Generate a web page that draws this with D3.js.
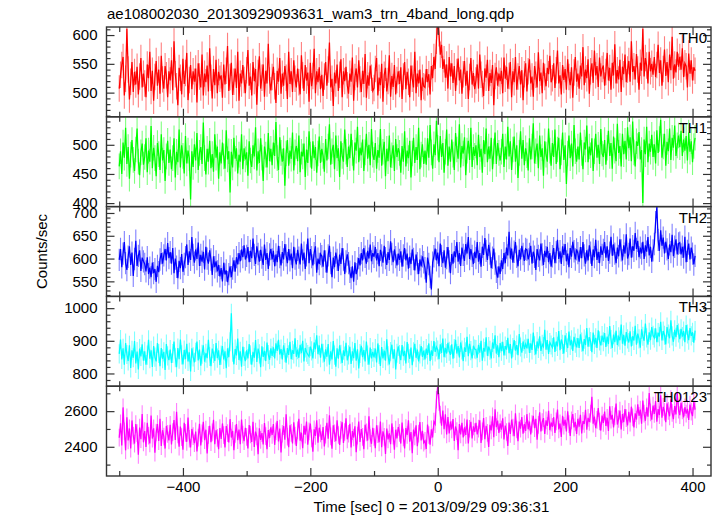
<!DOCTYPE html>
<html><head><meta charset="utf-8">
<script src="https://cdn.jsdelivr.net/npm/d3@7"></script>
<style>
body{margin:0;background:#fff;}
text{font-family:"Liberation Sans",Arial,Helvetica,sans-serif;}
</style></head>
<body>
<svg id="chart" width="718" height="516"></svg>
<script>
// ---- DATA ----
const title = "ae108002030_20130929093631_wam3_trn_4band_long.qdp";
const xLabel = "Time [sec] 0 = 2013/09/29 09:36:31";
const yLabel = "Counts/sec";
const binStart = -500, binSize = 2;
const bandNames = ["TH0", "TH1", "TH2", "TH3", "TH0123"];
const bandColors = ["#ff0000", "#00ff00", "#0000ff", "#00ffff", "#ff00ff"];
const bandErrors = [23, 22, 24.5, 29.3, 49.6];
const yDomains = [[458, 614], [394, 548], [517, 714], [761, 1036], [2236, 2740]];
const yMajor = [[500, 550, 600], [400, 450, 500], [550, 600, 650, 700], [800, 900, 1000], [2400, 2600]];
const yMinorStep = [10, 10, 10, 20, 100];
const xMajor = [-400, -200, 0, 200, 400];
const xMinor = [-500, -300, -100, 100, 300];

const th0 = [
507,531,548,562,495,524,611,540,488,519,553,501,536,514,545,497,528,560,509,533,
516,492,549,525,571,503,538,486,527,555,512,540,498,564,523,507,546,530,492,537,
521,556,504,589,532,511,478,543,526,497,559,515,534,569,487,522,548,506,537,519,
542,483,551,528,509,566,495,533,518,547,502,577,526,490,541,513,557,499,536,524,
530,491,549,514,538,581,503,527,552,496,519,542,508,571,486,533,516,548,522,499,
539,574,512,528,495,553,520,541,479,534,563,507,526,549,493,538,516,585,521,504,
527,545,511,482,538,519,560,498,533,512,546,526,489,571,515,537,501,556,524,509,
542,518,497,565,530,503,548,521,535,484,552,511,529,576,499,537,518,544,506,531,
494,528,553,512,540,587,509,524,477,535,516,549,503,531,558,492,537,520,545,513,
498,533,519,561,486,527,542,509,556,523,501,538,515,567,491,530,512,547,526,503,
508,541,560,495,526,513,550,484,531,543,502,520,565,493,529,510,548,497,522,537,
515,544,489,528,553,506,536,519,492,547,524,509,571,499,533,516,540,487,526,511,
509,541,518,532,497,546,525,562,541,590,625,603,566,583,541,558,526,549,507,562,
528,551,517,546,503,536,559,521,540,498,532,555,512,538,489,527,560,514,534,506,
521,549,507,566,531,515,494,542,526,557,503,534,517,548,478,529,544,512,533,520,
538,499,561,524,545,507,529,553,492,537,518,562,505,528,546,514,539,487,532,551,
502,537,558,516,528,493,546,531,509,570,520,535,499,552,527,511,543,532,564,518,
525,551,508,539,573,516,530,497,548,522,541,505,558,527,513,544,491,535,562,519,
533,507,547,528,579,513,540,525,558,498,537,551,517,573,530,546,510,561,528,541,
547,512,536,569,521,543,505,552,530,584,516,539,523,557,501,545,532,566,518,540,
555,519,589,536,546,523,567,540,505,552,538,611,528,560,547,516,571,537,550,531,
562,527,548,583,534,556,512,541,575,529,553,518,566,539,597,524,549,535,571,545,
562,540,577,527,551,546,509,568,533,556,521,544,538];

const th1 = [
463,489,450,504,478,529,467,496,442,483,508,474,455,492,528,471,448,487,502,466,
479,511,453,490,471,532,460,495,477,446,503,484,457,518,473,491,438,480,507,469,
492,458,477,511,444,488,470,526,461,499,481,451,515,468,490,477,406,489,462,501,
473,520,457,486,496,467,538,477,449,493,471,507,460,484,454,518,478,497,442,487,
468,504,480,459,525,475,489,418,488,461,512,476,494,451,483,471,518,458,494,475,
487,447,506,473,462,499,480,530,456,489,469,511,478,438,497,483,461,520,472,493,
465,504,481,539,477,457,513,486,471,494,430,485,508,464,490,476,521,456,487,498,
472,516,453,488,480,502,445,492,469,523,483,459,506,477,496,452,485,514,469,493,
481,454,510,473,497,535,466,489,500,458,516,477,494,445,506,481,471,526,488,462,
497,477,519,486,456,504,490,531,470,495,482,509,455,487,519,476,500,465,527,483,
474,503,459,491,478,527,464,488,505,446,493,472,516,461,482,499,455,510,479,494,
486,452,498,471,523,463,490,477,507,444,485,512,469,496,474,529,458,483,501,467,
490,466,511,478,534,487,459,501,482,541,495,470,515,479,503,452,488,526,464,497,
471,509,483,457,520,492,476,535,461,498,485,513,448,490,507,474,529,462,496,481,
499,465,517,479,493,452,508,484,528,470,497,476,512,458,489,521,467,503,486,473,
488,519,462,497,475,531,480,506,457,492,514,471,499,443,486,523,476,508,465,494,
482,456,511,475,497,537,468,489,502,460,516,479,494,447,506,483,471,528,490,464,
503,479,526,467,492,512,458,487,521,474,499,433,485,516,477,502,463,534,489,471,
497,475,521,486,458,504,492,533,470,497,482,511,455,489,519,478,500,467,527,485,
479,508,466,495,524,481,503,459,514,490,472,536,486,498,463,519,484,507,475,530,
494,513,472,540,487,463,506,498,522,475,491,400,509,484,531,470,502,488,517,479,
501,468,525,486,510,543,478,497,519,464,505,489,528,474,512,495,533,481,499,516,
496,524,481,509,490,515,473,521,488,506,470,498,512];

const th2 = [
597,621,581,611,636,590,575,604,627,586,613,562,599,639,584,606,618,573,602,594,
588,572,603,566,580,559,591,568,577,549,584,570,598,612,589,607,621,596,634,601,
614,589,623,568,600,582,557,595,579,610,571,588,603,631,586,616,597,647,608,591,
620,599,635,584,608,593,615,576,626,600,589,618,598,564,605,581,594,572,586,561,
579,550,591,565,574,548,566,583,559,578,596,571,603,587,612,594,620,603,629,598,
606,625,592,617,601,644,608,588,627,610,593,619,602,586,631,597,612,577,609,621,
598,617,583,609,592,628,603,585,614,598,632,607,590,621,596,611,579,626,600,587,
619,602,587,633,596,613,577,607,644,590,621,603,585,612,627,569,600,588,610,605,
582,618,594,569,607,628,590,559,602,581,613,597,573,609,588,623,598,566,594,609,
590,571,557,583,549,592,566,578,601,585,612,596,623,604,589,617,600,631,594,612,
604,625,596,612,583,619,607,591,628,601,586,614,597,638,610,592,620,603,585,611,
597,616,582,607,623,596,611,578,604,588,620,599,574,609,590,566,598,583,605,592,
579,547,602,588,560,532,591,605,622,596,613,583,633,606,590,618,580,601,625,594,
568,610,589,616,603,636,593,612,584,624,608,595,632,611,647,599,621,606,588,615,
601,636,593,612,582,626,608,645,617,597,630,611,579,602,622,589,571,558,583,566,
596,577,612,590,624,607,659,600,622,591,615,636,604,583,619,598,628,610,595,621,
619,598,610,628,589,615,604,575,621,606,596,633,609,586,617,603,626,592,612,582,
605,623,590,614,641,599,616,588,627,608,632,594,611,581,623,604,637,616,598,620,
612,593,625,601,636,607,589,618,596,629,613,584,620,603,641,597,615,590,627,608,
619,636,602,627,595,613,648,606,631,611,590,624,605,642,618,596,629,611,653,600,
610,644,602,627,617,656,621,639,603,624,611,637,599,629,615,647,607,626,593,618,
632,680,713,641,617,662,628,646,611,637,620,599,631,614,652,605,626,642,609,633,
635,609,626,602,648,592,617,633,598,624,611,587,606];

const th3 = [
860,904,843,877,827,893,858,838,886,817,871,848,899,831,867,812,876,852,889,839,
868,827,856,903,845,871,820,884,850,837,893,861,822,878,845,866,811,890,854,841,
873,832,861,898,848,819,878,844,904,857,828,872,844,891,837,865,806,877,851,834,
865,898,840,873,824,859,886,836,862,847,903,852,822,876,861,838,893,847,871,826,
856,884,843,868,816,877,850,897,984,865,828,875,855,907,841,868,821,882,852,838,
871,846,890,857,827,866,848,902,835,876,860,819,883,851,869,838,895,858,842,877,
854,880,846,892,869,903,858,875,843,886,864,833,878,857,897,844,871,860,908,851,
873,848,888,862,900,837,878,865,858,852,882,869,846,895,874,917,859,886,848,891,
862,836,874,851,890,827,868,843,899,856,821,877,845,886,859,832,871,853,894,840,
857,882,829,868,847,893,839,874,815,861,885,850,872,837,898,856,827,879,846,866,
849,876,834,892,858,823,881,846,870,839,905,854,828,867,888,845,874,812,862,883,
858,841,887,853,869,831,896,862,845,879,825,866,891,848,873,837,860,884,851,870,
843,876,857,892,838,871,854,899,866,881,872,844,889,863,907,850,878,861,894,868,
857,889,845,876,903,861,884,849,895,872,838,880,866,912,853,891,870,846,885,875,
873,848,888,864,900,839,878,867,911,854,882,871,846,895,876,917,861,886,850,893,
868,897,855,884,873,909,862,890,846,879,902,870,887,856,921,881,864,898,875,890,
877,906,863,892,872,925,885,858,898,877,914,869,889,882,934,873,902,860,895,887,
879,911,866,898,883,930,871,904,889,861,917,895,878,928,886,903,869,912,893,880,
908,878,920,896,868,905,887,939,882,911,898,865,925,889,909,878,932,900,886,916,
897,924,881,913,890,945,904,878,919,896,931,887,912,902,950,891,918,885,927,906,
895,929,883,914,901,946,888,922,906,879,935,914,900,953,909,888,926,902,942,917,
909,938,896,925,913,958,901,930,917,889,942,921,908,963,915,897,934,911,948,924,
905,937,913,930,896,948,921,902,939,915,926,894,931];

const th0123 = [
2451,2532,2407,2621,2487,2380,2565,2436,2503,2390,2548,2462,2418,2527,2477,2355,2508,2443,2584,2425,
2488,2399,2534,2462,2419,2575,2446,2504,2367,2480,2528,2432,2557,2404,2493,2457,2390,2517,2472,2436,
2523,2413,2482,2550,2438,2596,2469,2400,2513,2454,2384,2535,2478,2428,2564,2445,2396,2500,2460,2420,
2486,2374,2451,2529,2408,2475,2540,2437,2496,2363,2467,2518,2426,2481,2552,2414,2493,2450,2386,2505,
2444,2531,2465,2396,2516,2477,2424,2555,2452,2489,2381,2472,2528,2437,2496,2415,2553,2468,2432,2507,
2456,2391,2522,2469,2427,2540,2399,2485,2458,2358,2504,2439,2477,2413,2533,2460,2386,2494,2449,2509,
2466,2528,2411,2487,2545,2430,2502,2368,2473,2516,2440,2583,2457,2398,2521,2478,2419,2537,2463,2405,
2492,2557,2434,2479,2392,2518,2468,2541,2412,2486,2530,2447,2372,2498,2461,2549,2423,2507,2475,2438,
2511,2402,2468,2534,2445,2577,2458,2389,2520,2476,2431,2549,2466,2410,2495,2538,2421,2483,2560,2442,
2473,2529,2396,2488,2452,2515,2370,2463,2541,2427,2499,2456,2386,2524,2481,2435,2571,2449,2417,2506,
2455,2392,2520,2471,2425,2542,2397,2487,2456,2360,2502,2441,2475,2415,2531,2462,2384,2496,2447,2511,
2478,2418,2536,2452,2391,2505,2466,2548,2429,2483,2364,2497,2458,2520,2403,2474,2539,2436,2490,2423,
2433,2388,2525,2466,2412,2498,2453,2541,2527,2664,2745,2652,2581,2519,2604,2498,2582,2469,2567,2475,
2542,2497,2556,2433,2514,2488,2381,2527,2470,2535,2452,2509,2466,2553,2419,2501,2540,2447,2515,2483,
2535,2469,2502,2548,2422,2486,2561,2443,2517,2478,2399,2524,2492,2571,2454,2611,2510,2547,2477,2532,
2496,2560,2441,2519,2483,2405,2536,2472,2553,2508,2459,2588,2497,2431,2541,2502,2567,2474,2528,2489,
2583,2498,2541,2469,2528,2574,2504,2557,2440,2523,2594,2486,2539,2561,2472,2548,2517,2602,2493,2536,
2512,2566,2478,2543,2609,2497,2531,2455,2574,2518,2552,2486,2599,2527,2461,2548,2583,2509,2540,2472,
2557,2513,2580,2475,2545,2528,2608,2496,2562,2539,2586,2680,2530,2570,2504,2551,2617,2542,2491,2575,
2534,2598,2517,2563,2489,2627,2552,2579,2508,2571,2643,2525,2556,2603,2497,2584,2538,2612,2561,2520,
2596,2536,2625,2565,2509,2588,2553,2638,2574,2609,2529,2660,2586,2546,2621,2569,2702,2593,2552,2631,
2585,2657,2541,2612,2578,2689,2563,2624,2597,2538,2644,2602,2571,2667,2590,2555,2629,2581,2706,2608,
2578,2647,2604,2565,2622,2586,2613,2550,2637,2597,2572,2654,2609];

const series = [th0, th1, th2, th3, th0123];

// ---- LAYOUT ----
const svg = d3.select("#chart");
const plotLeft = 106.5, plotRight = 711, plotTop = 27, plotBottom = 476;
const panelH = (plotBottom - plotTop) / series.length;
const x = d3.scaleLinear().domain([-520, 429]).range([plotLeft, plotRight]);
const frameColor = "#333";

svg.append("text").attr("x", 107).attr("y", 19).attr("font-size", 15).text(title);

series.forEach((vals, k) => {
  const pTop = plotTop + k * panelH, pBot = pTop + panelH;
  const y = d3.scaleLinear().domain(yDomains[k]).range([pBot, pTop]);
  const g = svg.append("g");
  const clipId = "clip" + k;
  svg.append("clipPath").attr("id", clipId).append("rect")
    .attr("x", plotLeft).attr("y", pTop).attr("width", plotRight - plotLeft).attr("height", panelH);

  const data = vals.map((v, i) => ({t: binStart + i * binSize, v}));
  const err = bandErrors[k];
  const dg = g.append("g").attr("clip-path", `url(#${clipId})`);
  dg.selectAll("line.err").data(data).join("line")
    .attr("class", "err")
    .attr("x1", d => x(d.t)).attr("x2", d => x(d.t))
    .attr("y1", d => y(d.v - err)).attr("y2", d => y(d.v + err))
    .attr("stroke", bandColors[k]).attr("stroke-opacity", 0.5).attr("stroke-width", 1.1);
  dg.append("path").datum(data)
    .attr("d", d3.line().x(d => x(d.t)).y(d => y(d.v)))
    .attr("fill", "none").attr("stroke", bandColors[k]).attr("stroke-width", 1.25);

  const minorVals = d3.range(Math.ceil(yDomains[k][0] / yMinorStep[k]) * yMinorStep[k], yDomains[k][1], yMinorStep[k])
    .filter(v => !yMajor[k].includes(v));
  g.append("g").attr("transform", `translate(${plotLeft},0)`)
    .call(d3.axisLeft(y).tickValues(yMajor[k]).tickSizeInner(-8).tickSizeOuter(0).tickPadding(9).tickFormat(d3.format("d")));
  g.append("g").attr("transform", `translate(${plotLeft},0)`)
    .call(d3.axisLeft(y).tickValues(minorVals).tickSizeInner(-4).tickSizeOuter(0).tickFormat(""));
  g.append("g").attr("transform", `translate(${plotRight},0)`)
    .call(d3.axisRight(y).tickValues(yMajor[k]).tickSizeInner(-8).tickSizeOuter(0).tickFormat(""));
  g.append("g").attr("transform", `translate(${plotRight},0)`)
    .call(d3.axisRight(y).tickValues(minorVals).tickSizeInner(-4).tickSizeOuter(0).tickFormat(""));
  const isLast = k === series.length - 1;
  g.append("g").attr("transform", `translate(0,${pBot})`)
    .call(d3.axisBottom(x).tickValues(xMajor).tickSizeInner(-8).tickSizeOuter(0).tickPadding(5)
      .tickFormat(isLast ? (d => d < 0 ? "\u2212" + Math.abs(d) : String(d)) : ""));
  g.append("g").attr("transform", `translate(0,${pBot})`)
    .call(d3.axisBottom(x).tickValues(xMinor).tickSizeInner(-5).tickSizeOuter(0).tickFormat(""));
  g.append("g").attr("transform", `translate(0,${pTop})`)
    .call(d3.axisTop(x).tickValues(xMajor).tickSizeInner(-8).tickSizeOuter(0).tickFormat(""));
  g.append("g").attr("transform", `translate(0,${pTop})`)
    .call(d3.axisTop(x).tickValues(xMinor).tickSizeInner(-5).tickSizeOuter(0).tickFormat(""));

  g.selectAll(".domain").remove();
  g.selectAll(".tick line").attr("stroke", frameColor).attr("stroke-width", 1.2);
  g.selectAll(".tick text").attr("font-size", 15).attr("fill", "#000")
    .attr("font-family", '"Liberation Sans",Arial,Helvetica,sans-serif');

  g.append("rect").attr("x", plotLeft).attr("y", pTop).attr("width", plotRight - plotLeft).attr("height", panelH)
    .attr("fill", "none").attr("stroke", frameColor).attr("stroke-width", 1.4);

  g.append("text").attr("x", 707).attr("y", pTop + 16).attr("text-anchor", "end")
    .attr("font-size", 15).text(bandNames[k]);
});

svg.append("text").attr("transform", `translate(47,${(plotTop + plotBottom) / 2}) rotate(-90)`)
  .attr("text-anchor", "middle").attr("font-size", 15).text(yLabel);
svg.append("text").attr("x", x(-10)).attr("y", 512).attr("text-anchor", "middle")
  .attr("font-size", 15).text(xLabel);
</script>
</body></html>
